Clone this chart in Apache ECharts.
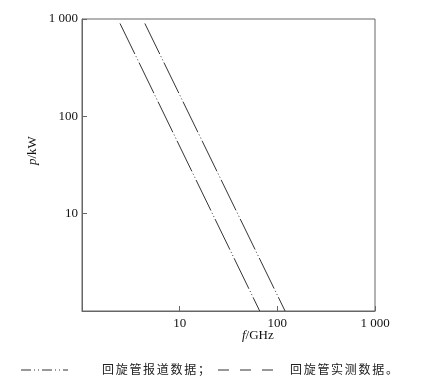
<!DOCTYPE html>
<html>
<head>
<meta charset="utf-8">
<script src="https://cdn.jsdelivr.net/npm/echarts@6/dist/echarts.min.js"></script>
<style>html,body{margin:0;padding:0;background:#fff;}#c{width:432px;height:389px;}</style>
</head>
<body>
<div id="c"></div>
<script>
// Data
const reportedF = [2.45, 66];
const reportedP = [900, 1];
const measuredF = [4.4, 120];
const measuredP = [900, 1];
const xTicks = [1, 10, 100, 1000];
const yTicks = [1, 10, 100, 1000];
const legendReported = '回旋管报道数据；';
const legendMeasured = '回旋管实测数据。';
const xName = ['f', '/GHz'];
const yName = ['p', '/kW'];

function fmt(v) {
  if (Math.abs(v - 1) < 1e-9) return '';
  if (Math.abs(v - 1000) < 1e-6) return '1 000';
  return String(Math.round(v));
}
const serif = '"Liberation Serif", "DejaVu Serif", serif';
const cjk = '"Noto Sans CJK SC", sans-serif';
const axisColor = '#666';
const lineColor = '#333';
const dashPat = [34, 2.5, 1, 2.5, 1, 2.5];

function charTexts(str, x0, y, step, size) {
  return str.split('').map((ch, i) => ({
    type: 'text', left: x0 + i * step, top: y,
    style: { text: ch, font: size + 'px ' + cjk, fill: '#222' }
  }));
}

const chart = echarts.init(document.getElementById('c'), null, { renderer: 'canvas' });
const option = {
  animation: false,
  grid: { left: 82, top: 19, right: 57, bottom: 78, show: true, borderColor: axisColor, borderWidth: 1, backgroundColor: 'transparent' },
  xAxis: {
    type: 'log', logBase: 10, min: xTicks[0], max: xTicks[xTicks.length - 1],
    axisLine: { lineStyle: { color: axisColor, width: 1 } },
    axisTick: { inside: true, length: 5, lineStyle: { color: axisColor } },
    minorTick: { show: false },
    splitLine: { show: false },
    axisLabel: { formatter: fmt, color: '#111', fontFamily: serif, fontSize: 13, margin: 6, showMaxLabel: true }
  },
  yAxis: {
    type: 'log', logBase: 10, min: yTicks[0], max: yTicks[yTicks.length - 1],
    axisLine: { lineStyle: { color: axisColor, width: 1 } },
    axisTick: { inside: true, length: 5, lineStyle: { color: axisColor } },
    splitLine: { show: false },
    axisLabel: { formatter: fmt, color: '#111', fontFamily: serif, fontSize: 13, margin: 4, showMaxLabel: true }
  },
  series: [
    {
      type: 'line', name: 'reported', symbol: 'none',
      data: reportedF.map((f, i) => [f, reportedP[i]]),
      lineStyle: { color: lineColor, width: 1, type: dashPat }
    },
    {
      type: 'line', name: 'measured', symbol: 'none',
      data: measuredF.map((f, i) => [f, measuredP[i]]),
      lineStyle: { color: lineColor, width: 1, type: dashPat }
    }
  ],
  graphic: [
    {
      type: 'text', left: 242, top: 329,
      style: { rich: { i: { fontFamily: serif, fontStyle: 'italic', fontSize: 13, fill: '#111' }, n: { fontFamily: serif, fontSize: 13, fill: '#111' } },
        text: '{i|' + xName[0] + '}{n|' + xName[1] + '}' }
    },
    {
      type: 'text', x: 26, y: 165, rotation: Math.PI / 2,
      style: { rich: { i: { fontFamily: serif, fontStyle: 'italic', fontSize: 13, fill: '#111' }, n: { fontFamily: serif, fontSize: 13, fill: '#111' } },
        text: '{i|' + yName[0] + '}{n|' + yName[1] + '}' }
    },
    { type: 'line', shape: { x1: 21, y1: 370, x2: 68, y2: 370 }, style: { stroke: '#333', lineWidth: 1, lineDash: [10, 3, 1, 3, 1, 3] } },
    { type: 'line', shape: { x1: 218, y1: 370, x2: 273, y2: 370 }, style: { stroke: '#333', lineWidth: 1, lineDash: [11, 11] } },
    ...charTexts(legendReported, 102, 363, 13.7, 12),
    ...charTexts(legendMeasured, 290, 363, 13.7, 12)
  ]
};
chart.setOption(option);
</script>
</body>
</html>
